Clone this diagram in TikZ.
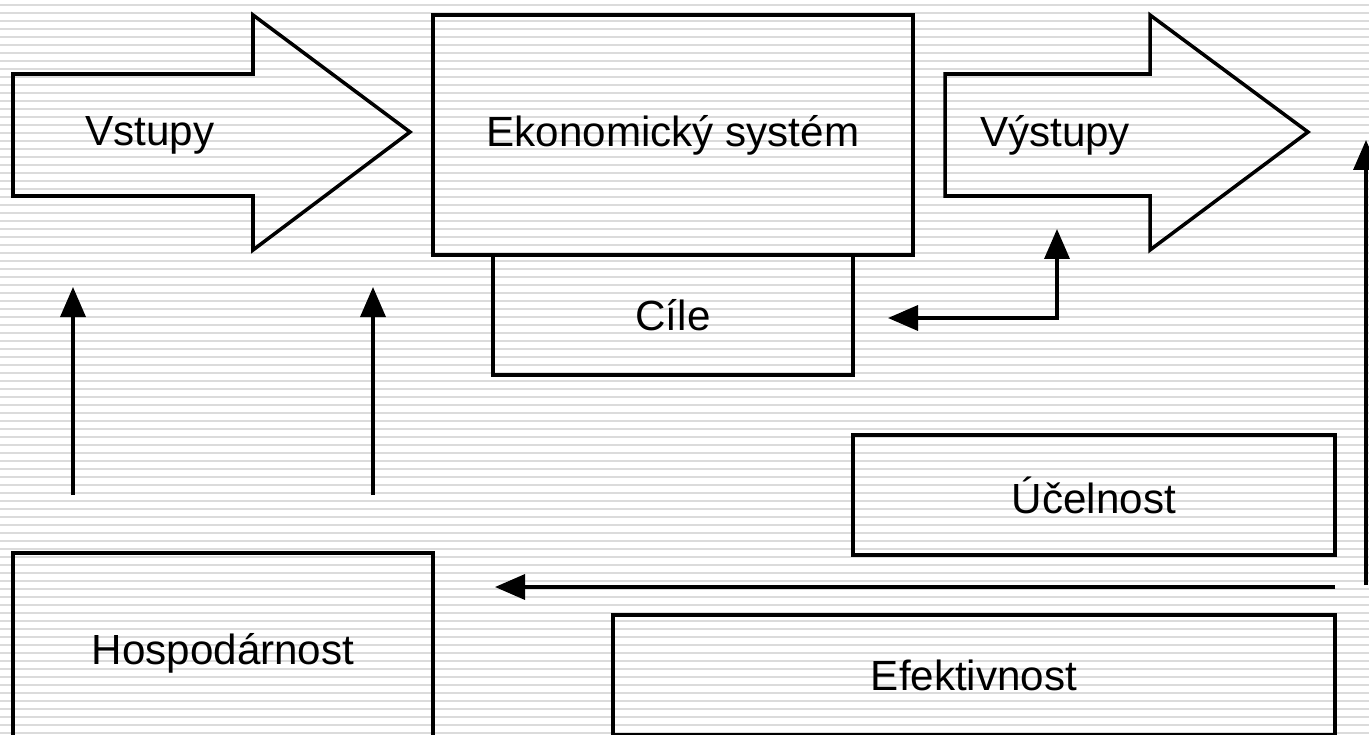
\documentclass[tikz,border=0pt]{standalone}
\usepackage{fontspec}
\setmainfont{Liberation Sans}
\usetikzlibrary{arrows.meta}

\begin{document}
\begin{tikzpicture}[x=0.02cm, y=-0.02cm, line join=miter,
    box/.style={draw, line width=2pt, inner sep=0pt, font=\fontsize{24}{28}\selectfont},
    txt/.style={inner sep=0pt, font=\fontsize{24}{28}\selectfont},
    arr/.style={-{Triangle[length=0.6cm, width=0.5cm]}, line width=2pt}]
    \useasboundingbox (0,0) rectangle (1369,734);
    \clip (0,0) rectangle (1369,734);
    % striped background
    \foreach \y in {5,13,...,733}
        \draw[gray!28, line width=1.1pt] (0,\y) -- (1369,\y);
    % big arrows
    \draw[line width=2pt] (13,74) -- (253,74) -- (253,15) -- (410,132) -- (253,250) -- (253,196) -- (13,196) -- cycle;
    \draw[line width=2pt] (945,74) -- (1150,74) -- (1150,15) -- (1308,132) -- (1150,250) -- (1150,196) -- (945,196) -- cycle;
    \node[txt] (vstupy) at (150,135) {Vstupy};
    \node[txt] (vystupy) at (1055,135) {Výstupy};
    % boxes
    \node[box, minimum width=9.6cm, minimum height=4.8cm] (system) at (673,135) {Ekonomický systém};
    \node[box, minimum width=7.2cm, minimum height=2.4cm] (cile) at (673,315) {Cíle};
    \node[box, minimum width=9.64cm, minimum height=2.4cm] (ucelnost) at (1094,495) {Účelnost};
    \node[box, minimum width=14.44cm, minimum height=2.4cm] (efektivnost) at (974,675) {Efektivnost};
    \node[box, minimum width=8.4cm, minimum height=4cm] (hospodarnost) at (223,653) {Hospodárnost};
    % connectors
    \coordinate (h1) at (73,495);   \coordinate (v1) at (73,287);
    \coordinate (h2) at (373,495);  \coordinate (v2) at (373,287);
    \coordinate (c1) at (888,318);  \coordinate (k) at (1057,318);  \coordinate (o1) at (1057,229);
    \coordinate (e1) at (1335,587); \coordinate (e2) at (495,587);
    \coordinate (r1) at (1366,585); \coordinate (r2) at (1366,140);
    \draw[arr] (h1) -- (v1);
    \draw[arr] (h2) -- (v2);
    \draw[line width=2pt, {Triangle[length=0.6cm, width=0.5cm]}-{Triangle[length=0.6cm, width=0.5cm]}] (c1) -- (k) -- (o1);
    \draw[arr] (e1) -- (e2);
    \draw[arr] (r1) -- (r2);
\end{tikzpicture}
\end{document}
